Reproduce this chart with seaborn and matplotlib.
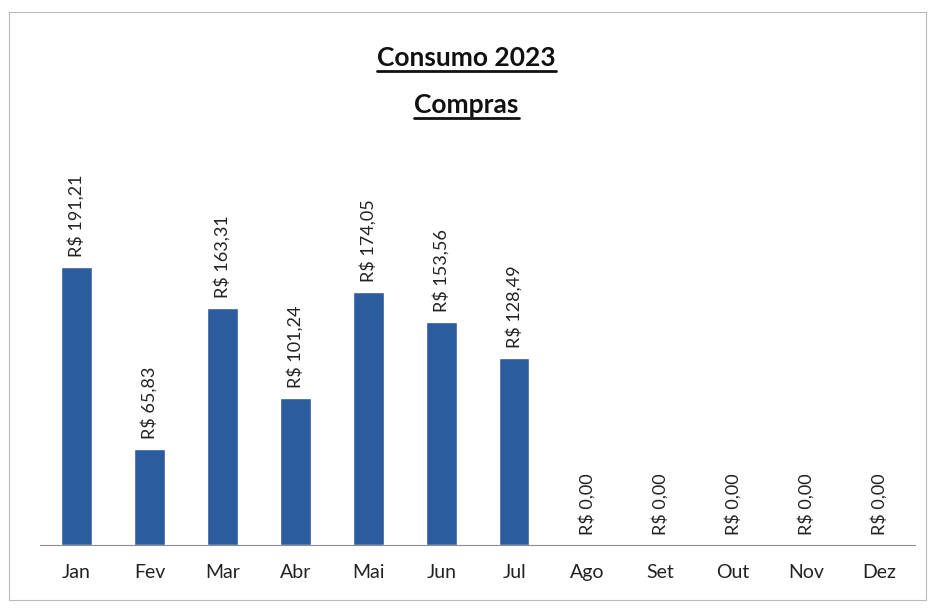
import matplotlib
matplotlib.use("Agg")
import matplotlib.pyplot as plt
import seaborn as sns
from matplotlib.patches import Rectangle
from matplotlib.lines import Line2D

# dados do gráfico
meses = ["Jan", "Fev", "Mar", "Abr", "Mai", "Jun", "Jul", "Ago", "Set", "Out", "Nov", "Dez"]
valores = [191.21, 65.83, 163.31, 101.24, 174.05, 153.56, 128.49, 0.0, 0.0, 0.0, 0.0, 0.0]
titulo = "Consumo 2023"
subtitulo = "Compras"

sns.set_style("white")
plt.rcParams["font.family"] = ["Lato", "DejaVu Sans"]

fig = plt.figure(figsize=(9.33, 6.08), dpi=100)
ax = fig.add_axes([0.043, 0.104, 0.938, 0.597])

sns.barplot(x=meses, y=valores, color="#2B5C9E", saturation=1, width=0.42, ax=ax)

ax.set_xlim(-0.5, 11.5)
ax.set_ylim(0, 250)


def formato(v):
    return "R$ " + f"{v:.2f}".replace(".", ",")


ax.bar_label(ax.containers[0], labels=[formato(v) for v in valores], rotation=90,
             padding=7, fontsize=13, color="#222222")

# eixos: só a linha de base
for lado in ["top", "right", "left"]:
    ax.spines[lado].set_visible(False)
ax.spines["bottom"].set_color("#8c8c8c")
ax.set_yticks([])
ax.set_xticks(range(len(meses)))
ax.set_xticklabels(meses, fontsize=14, color="#222222")
ax.set_xticks([i - 0.5 for i in range(len(meses) + 1)], minor=True)
ax.tick_params(axis="x", which="major", length=0, pad=14)
ax.tick_params(axis="x", which="minor", length=6, color="#8c8c8c", direction="out")
ax.set_xlabel("")
ax.set_ylabel("")

# moldura do gráfico
fig.patches.append(Rectangle((0.010, 0.013), 0.982, 0.967, transform=fig.transFigure,
                             fill=False, edgecolor="#bbbbbb", linewidth=0.8))

# títulos sublinhados
t1 = fig.text(0.5, 1 - 58 / 608, titulo, ha="center", va="center", fontsize=19,
              fontweight="bold", color="#111111")
t2 = fig.text(0.5, 1 - 105 / 608, subtitulo, ha="center", va="center", fontsize=19,
              fontweight="bold", color="#111111")
fig.canvas.draw()
r = fig.canvas.get_renderer()
for t in [t1, t2]:
    bb = t.get_window_extent(r).transformed(fig.transFigure.inverted())
    y = bb.y0 - 0.002
    fig.lines.append(Line2D([bb.x0, bb.x1], [y, y], transform=fig.transFigure,
                            color="#111111", linewidth=2))

fig.savefig("out.png", dpi=100)
